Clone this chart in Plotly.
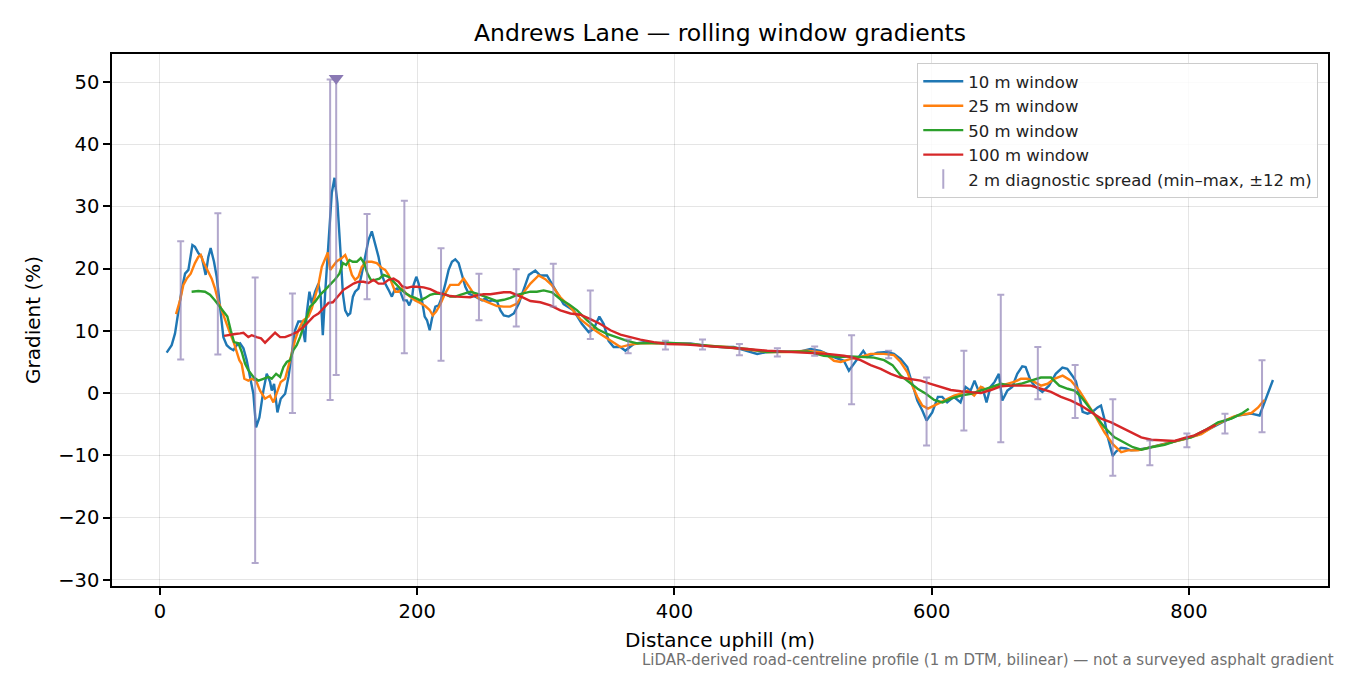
import plotly.graph_objects as go

# rolling-window gradient profiles, (distance m, gradient %)
win_10m = [
    (5.2, 6.5), (9.1, 7.7), (11.7, 9.6), (14.3, 13.3), (16.9, 16.6), (19.5, 19.2),
    (22.1, 19.8), (25.2, 23.8), (27.2, 23.5), (29.8, 22.5), (32.4, 21.9), (35.5, 19.0),
    (37.6, 21.9), (39.4, 23.3), (42.0, 21.1), (44.1, 18.7), (46.7, 13.9), (49.3, 9.0),
    (51.9, 7.7), (54.5, 7.2), (57.1, 6.9), (59.7, 7.7), (62.3, 8.0), (64.9, 7.2),
    (67.4, 5.3), (70.0, 2.6), (72.6, -0.1), (74.7, -5.5), (77.3, -3.9), (80.4, 0.4),
    (83.0, 3.1), (85.6, 1.8), (86.9, 0.4), (88.7, 1.5), (91.3, -3.1), (93.9, -0.9),
    (97.3, -0.1), (99.9, 2.6), (102.4, 6.3), (105.0, 10.1), (107.6, 11.5), (110.2, 11.5),
    (112.8, 8.2), (114.1, 12.8), (116.2, 16.3), (118.0, 14.4), (120.6, 16.3), (123.2, 17.6),
    (125.0, 15.5), (126.6, 9.3), (128.4, 16.0), (131.0, 23.5), (133.6, 32.2), (135.7, 34.6),
    (138.0, 30.5), (140.1, 23.5), (142.2, 16.0), (144.0, 13.3), (146.1, 12.5), (147.9, 12.8),
    (150.0, 15.5), (151.7, 16.3), (154.3, 16.8), (156.9, 19.2), (159.5, 21.9), (162.1, 24.6),
    (164.7, 26.0), (167.3, 24.1), (169.9, 21.9), (172.5, 19.0), (175.1, 17.6), (177.7, 16.6),
    (180.3, 15.5), (182.4, 16.6), (184.2, 16.8), (186.8, 16.3), (189.4, 14.9), (191.9, 14.9),
    (193.8, 14.1), (195.9, 15.2), (197.2, 17.4), (199.3, 18.7), (201.1, 17.6), (203.7, 14.9),
    (205.8, 12.3), (207.6, 11.7), (209.7, 10.1), (211.5, 12.0), (214.1, 13.9), (216.7, 14.1),
    (219.3, 15.5), (221.9, 17.6), (224.4, 19.8), (227.0, 21.1), (229.6, 21.5), (232.2, 20.9),
    (234.8, 19.0), (237.4, 17.1), (240.0, 16.0), (242.6, 15.8), (245.2, 15.5), (247.8, 15.2),
    (250.4, 14.9), (253.0, 15.2), (255.6, 14.7), (258.2, 14.9), (262.1, 14.7), (264.7, 13.3),
    (267.3, 12.5), (271.2, 12.3), (275.1, 12.8), (279.0, 14.4), (282.9, 16.8), (286.8, 19.0),
    (291.8, 19.7), (295.7, 18.9), (300.9, 18.9), (306.1, 17.0), (313.8, 14.3), (321.6, 13.3),
    (328.1, 11.1), (333.3, 9.8), (337.2, 10.3), (341.6, 12.3), (345.0, 11.1), (348.8, 8.4),
    (352.7, 7.4), (357.9, 7.4), (361.8, 6.8), (368.3, 7.9), (376.1, 8.2), (386.4, 8.0),
    (399.4, 8.0), (412.4, 8.0), (425.4, 7.6), (435.7, 7.4), (446.1, 7.4), (456.5, 6.8),
    (464.3, 6.3), (472.0, 6.6), (485.0, 6.6), (498.0, 6.7), (505.7, 7.1), (513.5, 6.8),
    (523.9, 5.8), (531.7, 5.2), (535.6, 3.6), (540.8, 5.0), (546.8, 6.8), (549.9, 5.8),
    (557.7, 6.5), (565.5, 6.6), (570.6, 6.3), (575.8, 5.5), (581.0, 4.2), (584.9, 1.5),
    (588.8, -1.2), (592.7, -2.8), (596.0, -4.4), (600.4, -3.1), (604.8, -0.6), (608.2, -0.6),
    (612.0, -1.5), (617.2, -0.6), (622.4, -1.5), (626.3, 1.0), (630.2, 0.4), (633.3, 2.0),
    (636.7, 0.2), (639.3, 1.0), (642.6, -1.5), (645.7, 1.0), (648.9, 1.8), (652.2, 3.1),
    (654.9, -1.2), (658.8, 0.4), (662.6, 1.0), (666.5, 3.1), (670.4, 4.3), (673.0, 4.2),
    (676.9, 2.0), (680.8, 1.0), (686.0, 0.2), (691.2, 1.2), (696.4, 3.1), (701.6, 4.1),
    (705.4, 3.9), (709.3, 2.8), (712.1, 1.9), (714.7, -0.4), (717.3, -3.0), (721.2, -3.3),
    (725.1, -3.0), (729.0, -2.3), (731.6, -2.0), (734.2, -4.1), (736.8, -7.0), (740.7, -10.1),
    (743.3, -9.4), (747.2, -8.8), (751.1, -8.9), (755.0, -9.2), (760.2, -9.1), (768.0, -8.8),
    (781.0, -8.2), (793.9, -7.5), (806.9, -6.7), (817.3, -5.6), (827.6, -4.5), (838.0, -3.6),
    (848.4, -3.3), (854.9, -3.6), (858.8, -1.5), (865.3, 2.1),
]

win_25m = [
    (12.5, 12.7), (15.6, 14.9), (18.2, 17.4), (20.8, 18.4), (23.9, 19.2), (27.2, 20.9),
    (29.8, 21.9), (31.7, 22.2), (33.7, 21.1), (36.8, 19.8), (40.2, 18.4), (42.8, 16.8),
    (45.4, 14.7), (48.0, 13.3), (50.6, 11.7), (54.5, 9.6), (57.6, 8.0), (60.2, 6.3),
    (61.7, 5.3), (63.5, 4.7), (65.6, 2.3), (68.7, 2.0), (71.3, 2.3), (74.7, 2.0),
    (77.8, 0.4), (81.7, -0.9), (85.6, -0.4), (88.2, -1.5), (90.8, -0.1), (93.9, 1.8),
    (97.3, 2.3), (99.9, 4.2), (102.4, 6.3), (105.0, 8.5), (107.6, 10.1), (111.5, 11.7),
    (115.4, 12.3), (118.0, 13.6), (120.6, 15.5), (123.2, 17.4), (125.8, 20.3), (128.4, 21.7),
    (130.5, 22.6), (132.3, 19.8), (134.9, 20.6), (137.5, 21.2), (141.4, 21.7), (144.0, 22.2),
    (146.6, 20.9), (149.2, 19.0), (151.7, 18.2), (154.3, 18.7), (156.9, 20.3), (160.8, 21.1),
    (164.7, 21.1), (168.6, 20.9), (172.5, 20.1), (175.1, 19.8), (177.7, 19.0), (180.3, 17.6),
    (182.9, 16.3), (185.5, 16.3), (188.1, 16.8), (191.4, 16.0), (194.5, 15.5), (198.4, 14.9),
    (202.3, 14.5), (206.2, 14.0), (209.5, 13.4), (212.1, 12.5), (214.7, 13.1), (217.8, 14.2),
    (221.7, 16.0), (225.6, 17.4), (229.6, 17.4), (232.2, 17.4), (236.1, 18.4), (240.0, 17.2),
    (243.9, 16.0), (247.8, 15.2), (251.7, 14.9), (256.9, 14.4), (262.1, 14.0), (267.3, 13.9),
    (272.4, 13.9), (277.6, 14.4), (282.8, 16.2), (288.0, 17.6), (294.4, 18.9), (299.6, 18.3),
    (304.8, 17.3), (311.3, 15.4), (319.1, 13.8), (326.8, 11.9), (334.6, 10.6), (342.4, 9.5),
    (350.2, 8.4), (358.0, 7.4), (365.7, 7.8), (373.5, 8.0), (386.5, 8.0), (399.4, 8.0),
    (412.4, 7.9), (425.4, 7.6), (441.0, 7.4), (456.5, 7.0), (472.0, 6.6), (487.7, 6.6),
    (503.2, 6.8), (516.2, 6.5), (524.0, 5.2), (529.2, 5.0), (537.0, 5.5), (544.7, 5.8),
    (552.5, 6.3), (562.9, 6.3), (570.6, 6.1), (575.8, 5.0), (581.0, 3.4), (584.9, 1.2),
    (588.8, -0.6), (592.7, -2.0), (597.1, -2.5), (601.8, -2.0), (607.0, -1.5), (612.2, -0.9),
    (617.4, -0.4), (622.6, -0.1), (627.8, 0.4), (633.0, -0.4), (638.2, 1.0), (643.4, 0.4),
    (648.6, 1.0), (653.7, 1.2), (658.9, 1.5), (664.1, 1.8), (669.3, 2.3), (674.5, 2.3),
    (679.7, 1.8), (684.9, 1.2), (690.1, 1.5), (695.3, 2.3), (701.8, 2.8), (708.3, 2.0),
    (714.8, 0.4), (721.3, -1.7), (727.8, -3.9), (734.3, -6.3), (740.8, -8.2), (747.3, -9.5),
    (752.5, -9.2), (760.3, -9.2), (770.7, -8.7), (783.7, -8.1), (796.7, -7.4), (809.6, -6.6),
    (822.6, -4.9), (835.6, -3.7), (848.6, -3.2), (853.8, -2.3), (858.5, -1.1),
]

win_50m = [
    (24.6, 16.3), (29.8, 16.4), (35.0, 16.3), (38.9, 15.8), (42.8, 14.9), (46.7, 13.9),
    (49.3, 13.1), (52.4, 12.3), (55.0, 10.1), (57.6, 8.2), (61.0, 8.0), (63.6, 6.6),
    (66.2, 4.7), (68.7, 3.7), (72.6, 2.6), (76.5, 2.0), (80.4, 2.3), (84.3, 2.6),
    (86.9, 2.3), (90.3, 3.1), (93.4, 2.6), (96.0, 4.2), (98.6, 5.0), (101.2, 5.3),
    (103.7, 6.9), (106.3, 7.7), (108.9, 9.0), (111.5, 10.6), (114.1, 12.3), (116.7, 13.9),
    (120.6, 14.7), (124.5, 15.8), (128.4, 16.6), (132.3, 17.4), (136.2, 18.3), (139.5, 19.2),
    (142.2, 20.9), (144.7, 20.6), (147.3, 21.4), (149.9, 21.1), (153.0, 21.1), (156.1, 21.7),
    (158.7, 20.9), (161.3, 19.2), (163.9, 18.2), (167.3, 18.2), (170.6, 18.4), (173.8, 19.0),
    (177.7, 18.7), (180.3, 18.2), (182.9, 17.6), (186.8, 16.8), (190.6, 16.1), (194.5, 15.6),
    (198.4, 15.3), (202.3, 14.9), (206.2, 15.3), (210.1, 15.8), (214.0, 16.0), (217.8, 16.0),
    (221.7, 15.9), (225.6, 15.5), (229.6, 15.5), (233.5, 15.8), (237.4, 16.1), (241.2, 16.3),
    (246.4, 16.0), (251.7, 15.6), (256.9, 15.1), (262.1, 14.8), (267.3, 15.0), (272.4, 15.3),
    (277.6, 15.8), (282.8, 16.1), (288.0, 16.3), (293.0, 16.3), (298.3, 16.5), (304.8, 16.2),
    (311.3, 15.1), (317.8, 14.3), (324.3, 13.3), (332.1, 11.7), (339.9, 10.3), (347.6, 9.5),
    (355.4, 8.9), (363.2, 8.4), (371.0, 8.0), (381.3, 8.0), (394.3, 8.1), (409.9, 7.9),
    (425.4, 7.6), (441.0, 7.4), (456.5, 7.1), (472.1, 6.6), (487.7, 6.6), (503.2, 6.7),
    (516.2, 6.0), (529.2, 5.8), (537.0, 5.9), (547.4, 5.8), (555.2, 5.7), (563.0, 5.3),
    (569.5, 4.5), (576.0, 2.8), (582.5, 1.8), (589.0, 0.7), (595.5, -0.1), (601.9, -1.1),
    (608.4, -1.5), (614.9, -0.9), (622.6, -0.4), (630.4, -0.1), (638.2, 0.4), (646.0, 1.0),
    (653.7, 1.5), (661.5, 1.2), (669.3, 1.5), (677.1, 2.0), (684.9, 2.5), (692.7, 2.5),
    (699.2, 1.2), (705.7, 0.7), (710.9, 0.4), (716.1, -0.6), (721.3, -2.0), (727.8, -3.9),
    (734.3, -5.5), (742.1, -7.1), (749.9, -7.9), (756.4, -8.7), (762.9, -9.1), (770.7, -8.7),
    (781.1, -8.3), (791.4, -7.6), (801.8, -7.1), (812.2, -6.0), (822.6, -4.7), (833.0, -4.1),
    (840.8, -3.3), (846.5, -2.5),
]

win_100m = [
    (49.8, 9.2), (54.5, 9.3), (58.4, 9.5), (62.3, 9.6), (64.9, 9.7), (68.7, 9.0),
    (71.3, 9.3), (75.2, 9.0), (78.6, 8.8), (81.7, 8.1), (85.1, 8.8), (89.5, 9.7),
    (93.4, 9.0), (97.3, 9.0), (101.2, 9.3), (106.3, 9.8), (111.5, 10.6), (115.4, 11.5),
    (119.3, 12.3), (123.2, 12.8), (127.1, 13.6), (131.0, 14.5), (134.4, 14.6), (138.8, 15.6),
    (142.7, 16.6), (146.6, 17.1), (150.5, 17.6), (154.3, 17.9), (158.2, 17.9), (162.1, 17.7),
    (166.0, 18.2), (169.9, 17.6), (173.8, 17.6), (177.7, 18.2), (181.6, 18.4), (185.5, 17.9),
    (188.1, 17.2), (192.0, 16.9), (195.9, 17.1), (199.8, 17.1), (205.0, 17.0), (210.1, 16.7),
    (215.3, 16.2), (220.4, 15.9), (225.6, 15.6), (230.8, 15.5), (236.0, 15.4), (241.2, 15.4),
    (246.4, 15.7), (251.7, 15.9), (256.9, 15.9), (262.1, 16.1), (267.3, 16.2), (272.4, 16.2),
    (277.6, 15.8), (282.8, 15.3), (288.0, 14.8), (295.7, 14.6), (303.5, 14.1), (311.3, 13.3),
    (319.1, 12.8), (326.8, 12.6), (334.6, 11.9), (342.4, 11.1), (350.2, 10.1), (358.0, 9.4),
    (365.7, 9.0), (373.5, 8.6), (383.9, 8.2), (394.3, 7.9), (409.9, 7.8), (425.4, 7.6),
    (441.0, 7.4), (456.5, 7.1), (472.1, 6.8), (487.7, 6.6), (503.2, 6.4), (518.8, 6.3),
    (531.7, 6.0), (537.0, 5.8), (544.7, 5.3), (552.5, 4.5), (560.3, 3.9), (568.1, 3.1),
    (575.8, 2.5), (583.6, 2.2), (591.4, 2.0), (599.2, 1.5), (607.0, 1.0), (614.8, 0.5),
    (622.6, 0.3), (630.4, 0.2), (638.2, 0.0), (646.0, 0.5), (653.7, 1.1), (661.5, 1.2),
    (669.3, 1.2), (677.1, 1.2), (684.9, 0.7), (692.7, 0.2), (700.5, -0.6), (708.3, -1.2),
    (716.1, -2.0), (723.9, -3.1), (731.7, -4.1), (739.5, -4.7), (747.3, -5.5), (755.1, -6.3),
    (762.9, -7.1), (770.7, -7.5), (781.1, -7.6), (788.8, -7.7), (796.6, -7.2), (804.4, -6.8),
    (812.2, -6.0), (820.7, -5.1),
]

# 2 m diagnostic spread: station, min, max
spread_x = [16.1, 45.0, 74.0, 103.0, 132.3, 137.0, 161.0, 190.0, 218.5, 248.0, 277.0,
            305.8, 334.6, 364.0, 393.0, 421.8, 450.5, 480.0, 509.0, 537.7, 566.5, 596.0,
            625.0, 653.7, 682.5, 711.5, 740.8, 769.6, 798.4, 828.0, 856.8]
spread_min = [5.4, 6.2, -27.3, -3.2, -1.1, 2.9, 15.1, 6.4, 5.2, 11.7, 10.7,
              13.9, 8.7, 6.4, 7.0, 7.0, 6.1, 5.9, 6.0, -1.8, 5.6, -8.4,
              -6.0, -7.9, -1.0, -4.0, -13.3, -11.6, -8.7, -6.5, -6.3]
spread_max = [24.4, 28.9, 18.6, 16.0, 50.4, 50.5, 28.8, 30.9, 23.3, 19.2, 19.9,
              20.8, 16.5, 8.6, 8.4, 8.6, 7.9, 7.2, 7.5, 9.3, 6.8, 2.5,
              6.8, 15.8, 7.4, 4.5, -1.0, -7.6, -6.5, -3.3, 5.3]
# peak marker of the spread
peak_x = [137.0]
peak_y = [50.6]

series = [
    ("10 m window", win_10m, "#1f77b4"),
    ("25 m window", win_25m, "#ff7f0e"),
    ("50 m window", win_50m, "#2ca02c"),
    ("100 m window", win_100m, "#d62728"),
]

SPREAD_COL = "rgba(140,125,180,0.68)"
FONT = "DejaVu Sans"

# the page adds an 8 px body margin, so the figure is a bit smaller
FIG_W, FIG_H = 1342, 667

fig = go.Figure()

for name, pts, col in series:
    fig.add_trace(
        go.Scatter(
            x=[p[0] for p in pts],
            y=[p[1] for p in pts],
            mode="lines",
            name=name,
            line=dict(color=col, width=2.4),
        )
    )

# error bars drawn from min up to max
fig.add_trace(
    go.Scatter(
        x=spread_x,
        y=spread_min,
        mode="markers",
        marker=dict(size=0.1, color="rgba(0,0,0,0)"),
        error_y=dict(
            type="data",
            symmetric=False,
            array=[hi - lo for lo, hi in zip(spread_min, spread_max)],
            arrayminus=[0] * len(spread_x),
            color=SPREAD_COL,
            thickness=2,
            width=3.5,
        ),
        showlegend=False,
        hoverinfo="skip",
    )
)

fig.add_trace(
    go.Scatter(
        x=peak_x,
        y=peak_y,
        mode="markers",
        marker=dict(symbol="triangle-down", size=13, color="#8a79b4"),
        showlegend=False,
    )
)

# legend-only entry for the spread
fig.add_trace(
    go.Scatter(
        x=[None],
        y=[None],
        mode="markers",
        name="2 m diagnostic spread (min–max, ±12 m)",
        marker=dict(symbol="line-ns-open", size=14, color=SPREAD_COL,
                    line=dict(width=2, color=SPREAD_COL)),
    )
)

axis_common = dict(
    showline=True,
    linecolor="black",
    linewidth=1.6,
    mirror=True,
    ticks="outside",
    ticklen=7,
    tickwidth=1.6,
    tickcolor="black",
    showgrid=True,
    gridcolor="rgba(0,0,0,0.1)",
    gridwidth=1.2,
    zeroline=False,
    tickfont=dict(family=FONT, size=19.5, color="black"),
)

fig.update_xaxes(
    range=[-37.3, 908.1],
    tickvals=[0, 200, 400, 600, 800],
    title=dict(text="Distance uphill (m)", font=dict(family=FONT, size=20, color="black"), standoff=11),
    **axis_common,
)
fig.update_yaxes(
    range=[-31.0, 54.5],
    tickvals=[-30, -20, -10, 0, 10, 20, 30, 40, 50],
    title=dict(text="Gradient (%)", font=dict(family=FONT, size=20, color="black"), standoff=12),
    **axis_common,
)

fig.update_layout(
    width=FIG_W,
    height=FIG_H,
    margin=dict(l=104, r=22, t=46, b=89, autoexpand=False),
    plot_bgcolor="white",
    paper_bgcolor="white",
    font=dict(family=FONT, color="black"),
    title=dict(
        text="Andrews Lane — rolling window gradients",
        x=0.5,
        xref="paper",
        y=1 - 25 / FIG_H,
        yref="container",
        yanchor="middle",
        font=dict(family=FONT, size=23.5, color="black"),
    ),
    legend=dict(
        x=0.992,
        y=0.983,
        xanchor="right",
        yanchor="top",
        bgcolor="rgba(255,255,255,0.85)",
        bordercolor="#cccccc",
        borderwidth=1,
        itemwidth=40,
        font=dict(family=FONT, size=16.5, color="#222222"),
    ),
    annotations=[
        dict(
            text="LiDAR-derived road-centreline profile (1 m DTM, bilinear) — not a surveyed asphalt gradient",
            xref="paper",
            yref="paper",
            x=1.0066,
            y=-0.139,
            xanchor="right",
            yanchor="middle",
            showarrow=False,
            font=dict(family=FONT, size=15, color="#707070"),
        )
    ],
)

fig.write_html("out.html")
